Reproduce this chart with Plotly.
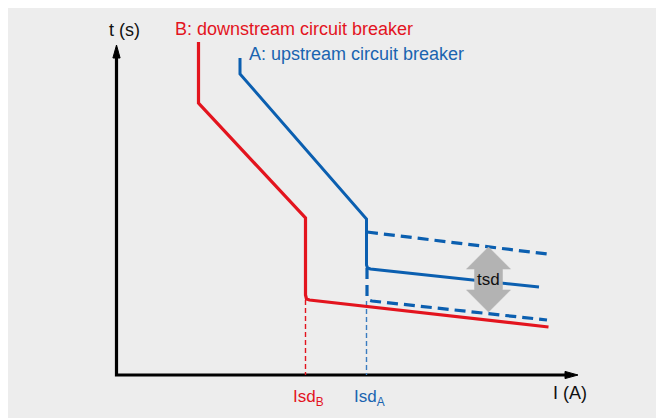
import plotly.graph_objects as go

# ---- data (current I in arbitrary units, time t in arbitrary units) ----
# B: downstream circuit breaker
I_B = [8.2, 8.2, 18.9, 18.9, 19.0, 19.3, 43.2]
t_B = [33.3, 27.2, 15.7, 8.0, 7.6, 7.5, 4.8]
# A: upstream circuit breaker (solid)
I_A = [12.35, 12.35, 25.0, 25.0, 25.1, 25.4, 42.25]
t_A = [31.7, 30.1, 15.6, 11.0, 10.7, 10.6, 8.8]
# A: tsd band (dashed)
I_A_up = [25.05, 43.05]
t_A_up = [14.3, 12.1]
I_A_low = [25.05, 25.05, 25.2, 25.55, 43.05]
t_A_low = [10.7, 7.9, 7.5, 7.4, 5.5]
# Isd markers
Isd_B = 18.9
Isd_A = 25.0
t_Isd_B = 7.5
t_Isd_A = 7.4
# tsd arrow
tsd_I = 37.2
tsd_top = 12.8
tsd_bottom = 6.3
# axes extents
I_max = 46.15
t_max = 33.0

RED = "#e3141e"
BLUE = "#0b5fb0"
BLUE_T = "#1a64b0"
FONT = "Liberation Sans, Arial, Helvetica, sans-serif"

fig = go.Figure()

# axes lines
fig.add_trace(go.Scatter(x=[0, 0, I_max - 1.0], y=[t_max - 1.0, 0, 0], mode="lines",
                         line=dict(color="black", width=3.2), cliponaxis=False))
# axis arrowheads
hl, hw = 1.3, 0.36
fig.add_trace(go.Scatter(x=[0, hw, -hw, 0], y=[t_max, t_max - hl, t_max - hl, t_max],
                         fill="toself", fillcolor="black", mode="lines",
                         line=dict(color="black", width=1), cliponaxis=False))
fig.add_trace(go.Scatter(x=[I_max, I_max - hl, I_max - hl, I_max], y=[0, hw, -hw, 0],
                         fill="toself", fillcolor="black", mode="lines",
                         line=dict(color="black", width=1), cliponaxis=False))

# thin dashed Isd verticals
fig.add_trace(go.Scatter(x=[Isd_B, Isd_B], y=[t_Isd_B, 0], mode="lines",
                         line=dict(color=RED, width=1.4, dash="5px,3px")))
fig.add_trace(go.Scatter(x=[Isd_A, Isd_A], y=[t_Isd_A, 0], mode="lines",
                         line=dict(color="#3a7cc0", width=1.4, dash="5px,3px")))

# dashed band
fig.add_trace(go.Scatter(x=I_A_up, y=t_A_up, mode="lines",
                         line=dict(color=BLUE, width=3.2, dash="11px,6px")))
fig.add_trace(go.Scatter(x=I_A_low, y=t_A_low, mode="lines",
                         line=dict(color=BLUE, width=3.2, dash="11px,6px")))

# curves
fig.add_trace(go.Scatter(x=I_A, y=t_A, mode="lines",
                         line=dict(color=BLUE, width=3)))
fig.add_trace(go.Scatter(x=I_B, y=t_B, mode="lines",
                         line=dict(color=RED, width=3.2)))

# tsd double arrow
mid = (tsd_top + tsd_bottom) / 2
head = 0.34 * (tsd_top - tsd_bottom)
hw2, sw = 2.2, 1.4
ax = [tsd_I, tsd_I + hw2, tsd_I + sw, tsd_I + sw, tsd_I + hw2, tsd_I,
      tsd_I - hw2, tsd_I - sw, tsd_I - sw, tsd_I - hw2, tsd_I]
ay = [tsd_top, tsd_top - head, tsd_top - head, tsd_bottom + head, tsd_bottom + head, tsd_bottom,
      tsd_bottom + head, tsd_bottom + head, tsd_top - head, tsd_top - head, tsd_top]
fig.add_trace(go.Scatter(x=ax, y=ay, fill="toself", fillcolor="#b3b3b3", mode="lines",
                         line=dict(color="#b3b3b3", width=0.5)))

ann = [
    dict(x=0.75, y=34.5, text="t (s)", xanchor="center", yanchor="middle", color="#111", size=18),
    dict(x=5.65, y=34.6, text="B: downstream circuit breaker", xanchor="left", yanchor="middle", color=RED, size=18),
    dict(x=13.05, y=32.1, text="A: upstream circuit breaker", xanchor="left", yanchor="middle", color=BLUE_T, size=18),
    dict(x=43.45, y=-1.8, text="I (A)", xanchor="left", yanchor="middle", color="#111", size=18),
    dict(x=17.45, y=-0.95, text="Isd<sub>B</sub>", xanchor="left", yanchor="top", color=RED, size=17),
    dict(x=23.55, y=-0.95, text="Isd<sub>A</sub>", xanchor="left", yanchor="top", color=BLUE_T, size=17),
    dict(x=tsd_I, y=mid, text="tsd", xanchor="center", yanchor="middle", color="#111", size=17),
]
for a in ann:
    c = a.pop("color")
    s = a.pop("size")
    fig.add_annotation(**a, showarrow=False, xref="x", yref="y",
                       font=dict(family=FONT, size=s, color=c))

# the page body adds an 8px white margin, which forms the white frame of the panel
fig.update_layout(
    width=656, height=410,
    margin=dict(l=0, r=0, t=0, b=0),
    paper_bgcolor="#ededed", plot_bgcolor="#ededed",
    showlegend=False, hovermode=False,
    xaxis=dict(range=[-10.85, 54.75], visible=False, fixedrange=True),
    yaxis=dict(range=[-4.3, 36.7], visible=False, fixedrange=True),
)
fig.update_traces(hoverinfo="skip")

fig.write_html("out.html")
